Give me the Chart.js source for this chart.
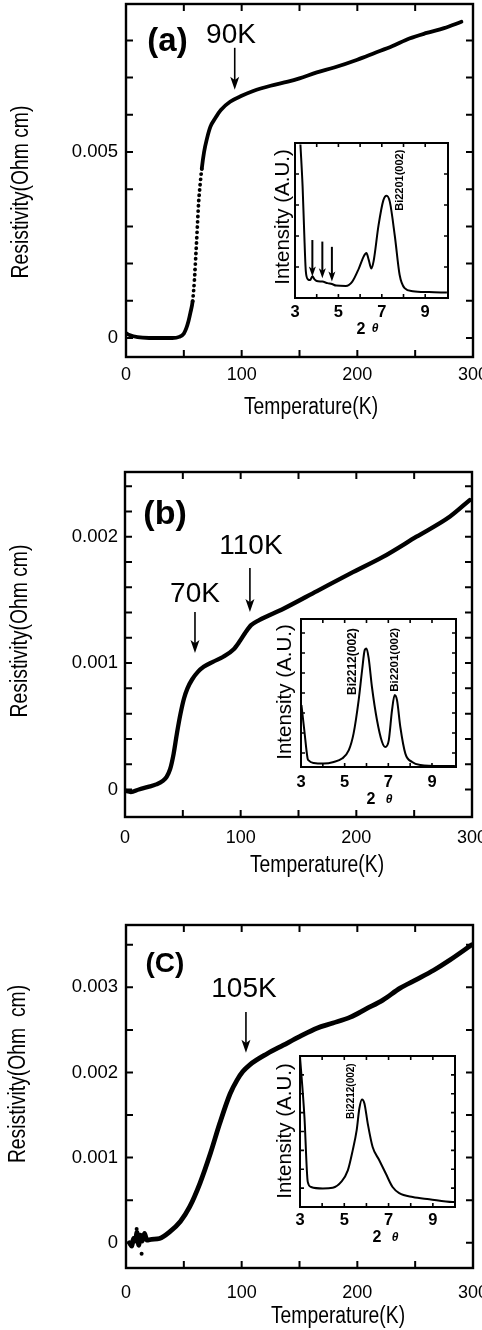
<!DOCTYPE html>
<html><head><meta charset="utf-8">
<script src="https://cdn.jsdelivr.net/npm/chart.js@4.4.1/dist/chart.umd.min.js"></script>
<style>
html,body{margin:0;padding:0;background:#fff;}
#wrap{position:relative;width:482px;height:1330px;overflow:hidden;background:#fff;}
#wrap canvas{position:absolute;left:0;top:0;}
</style></head><body><div id="wrap">
<canvas id="ma" width="482" height="1330"></canvas>
<canvas id="mb" width="482" height="1330"></canvas>
<canvas id="mc" width="482" height="1330"></canvas>
<canvas id="ia" width="482" height="1330"></canvas>
<canvas id="ib" width="482" height="1330"></canvas>
<canvas id="ic" width="482" height="1330"></canvas>
</div>
<script>
// ---------- data ----------
const tempA = [0, 3, 10, 20, 30, 40, 46, 50, 52, 54, 55.7, 57.6, 59.2, 60.5, 61.7, 62.8, 64, 65.5, 67.5, 70, 73, 77, 82, 90, 100, 110, 125, 140, 150, 165, 180, 200, 215, 230, 245, 260, 275, 290];
const rhoA  = [0.00013, 0.00008, 0.00002, 0, 0, 0, 0.00003, 0.00012, 0.00025, 0.00045, 0.00068, 0.00099, 0.00158, 0.0023, 0.0030, 0.00365, 0.0041, 0.00455, 0.0050, 0.00536, 0.00568, 0.0059, 0.00613, 0.00635, 0.00651, 0.00664, 0.00678, 0.00689, 0.00698, 0.00714, 0.00727, 0.00748, 0.00766, 0.00784, 0.00805, 0.0082, 0.00833, 0.0085];

const tempB = [0, 5, 12, 20, 27, 33, 36, 39, 42, 45, 48, 51, 54, 58, 63, 68, 76, 85, 94, 99, 104, 109, 116, 137, 166, 195, 223, 252, 281, 298];
const rhoB  = [-0.00001, -0.00002, 0, 0.00002, 0.00004, 0.00007, 0.0001, 0.00016, 0.00028, 0.00045, 0.0006, 0.00072, 0.0008, 0.00087, 0.00093, 0.00097, 0.00101, 0.00105, 0.00111, 0.00117, 0.00124, 0.0013, 0.00134, 0.00143, 0.00157, 0.00171, 0.00184, 0.002, 0.00216, 0.00229];

const tempC = [3, 5, 6.5, 8, 9.5, 11, 12.5, 14, 16, 18, 22, 29, 38, 47, 55, 64, 73, 81, 90, 96, 101, 107, 122, 136, 150, 165, 179, 194, 208, 222, 237, 251, 266, 280, 299];
const rhoC  = [0, -0.00004, 0.00005, 0.00002, 0.00012, -0.00003, 0.00009, 0.00002, 0.00011, 0.00003, 0.00004, 0.00005, 0.00013, 0.00025, 0.00042, 0.0007, 0.00105, 0.0014, 0.00175, 0.00191, 0.00201, 0.00209, 0.00222, 0.00232, 0.00242, 0.00252, 0.00258, 0.00265, 0.00275, 0.00285, 0.00299, 0.00309, 0.0032, 0.00332, 0.0035];
const noiseTempC = [9.2, 13.5];
const noiseRhoC  = [0.00016, -0.00013];

const thetaA = [3.25, 3.35, 3.42, 3.5, 3.6, 3.7, 3.8, 3.9, 4.0, 4.26, 4.5, 4.7, 4.9, 5.34, 5.64, 5.94, 6.17, 6.29, 6.4, 6.52, 6.62, 6.85, 7.07, 7.22, 7.37, 7.6, 7.82, 8.05, 8.43, 9.18, 10.0];
const intensityA = [4.95, 3.6, 2.2, 0.85, 0.6, 0.58, 0.7, 0.6, 0.55, 0.53, 0.48, 0.45, 0.4, 0.39, 0.53, 0.95, 1.35, 1.45, 1.22, 0.95, 1.18, 2.35, 3.15, 3.3, 3.1, 2.0, 0.75, 0.32, 0.22, 0.19, 0.175];

const thetaB = [3.02, 3.15, 3.3, 3.35, 3.58, 4.04, 4.5, 4.88, 5.19, 5.41, 5.64, 5.8, 5.92, 6.0, 6.1, 6.25, 6.48, 6.71, 6.86, 7.02, 7.17, 7.29, 7.4, 7.55, 7.78, 8.09, 8.47, 9.39, 10.05];
const intensityB = [3.1, 1.85, 0.44, 0.33, 0.2, 0.17, 0.25, 0.42, 0.84, 1.68, 3.33, 4.85, 5.85, 5.92, 5.44, 4.0, 2.35, 1.26, 1.0, 1.33, 2.85, 3.6, 3.33, 2.0, 0.67, 0.25, 0.1, 0.05, 0.05];

const thetaC = [3.0, 3.2, 3.35, 3.5, 4.03, 4.48, 4.86, 5.16, 5.38, 5.56, 5.68, 5.8, 5.91, 6.06, 6.28, 6.58, 6.88, 7.18, 7.48, 8.09, 8.84, 9.89, 10.0];
const intensityC = [7.96, 4.78, 1.33, 1.06, 0.98, 1.02, 1.33, 1.94, 3.0, 4.07, 5.22, 5.7, 5.49, 4.42, 3.18, 2.48, 1.76, 1.06, 0.74, 0.53, 0.41, 0.26, 0.26];

// tick values / labels
const mainXTickValues = [0, 100, 200, 300];
const mainXTickLabels = ['0', '100', '200', '300'];
const mainXTickMarks = [50, 100, 150, 200, 250];
const yTickValuesA = [0, 0.005];            const yTickLabelsA = ['0', '0.005'];
const yTickValuesB = [0, 0.001, 0.002];     const yTickLabelsB = ['0', '0.001', '0.002'];
const yTickValuesC = [0, 0.001, 0.002, 0.003]; const yTickLabelsC = ['0', '0.001', '0.002', '0.003'];
const yTickMarksA = [0, 0.001, 0.002, 0.003, 0.004, 0.005, 0.006, 0.007, 0.008];
const yTickMarksB = [0, 0.0002, 0.0004, 0.0006, 0.0008, 0.001, 0.0012, 0.0014, 0.0016, 0.0018, 0.002, 0.0022, 0.0024];
const yTickMarksC = [0, 0.0005, 0.001, 0.0015, 0.002, 0.0025, 0.003, 0.0035];
const insetXTickValues = [3, 5, 7, 9];
const insetXTickLabels = ['3', '5', '7', '9'];
const insetXTickMarks = [4, 5, 6, 7, 8, 9];

// transition markers (temperature of arrows, text)
const markTempA = [94];        const markTextA = ['90K'];
const markTempB = [60.5, 108]; const markTextB = ['70K', '110K'];
const markTempC = [103.7];     const markTextC = ['105K'];
const peakArrowThetaA = [3.8, 4.26, 4.7];

// ---------- styling ----------
const SANS = '"Liberation Sans",Arial,Helvetica,sans-serif';
const W = 482, H = 1330;

const deco = {
  id: 'deco',
  afterDraw(chart, args, o) {
    const {ctx, chartArea: a} = chart;
    const sx = chart.scales.x, sy = chart.scales.y;
    ctx.save();
    ctx.strokeStyle = '#000'; ctx.fillStyle = '#000';
    ctx.lineWidth = o.frameW;
    ctx.strokeRect(a.left, a.top, a.right - a.left, a.bottom - a.top);
    ctx.lineWidth = o.tickW;
    ctx.beginPath();
    (o.xTicks || []).forEach(v => { const p = sx.getPixelForValue(v);
      ctx.moveTo(p, a.bottom); ctx.lineTo(p, a.bottom - o.tickLen);
      ctx.moveTo(p, a.top); ctx.lineTo(p, a.top + o.tickLen); });
    (o.yTicks || []).forEach(v => { const p = sy.getPixelForValue(v);
      ctx.moveTo(a.left, p); ctx.lineTo(a.left + o.tickLen, p);
      ctx.moveTo(a.right, p); ctx.lineTo(a.right - o.tickLen, p); });
    ctx.stroke();
    (o.arrows || []).forEach(ar => {
      const x = sx.getPixelForValue(ar.x), y0 = sy.getPixelForValue(ar.from), y1 = sy.getPixelForValue(ar.to);
      ctx.lineWidth = ar.w;
      ctx.beginPath(); ctx.moveTo(x, y0); ctx.lineTo(x, y1 - ar.head * 0.6); ctx.stroke();
      ctx.beginPath(); ctx.moveTo(x - ar.hw / 2, y1 - ar.head); ctx.lineTo(x, y1 - ar.head * 0.75);
      ctx.lineTo(x + ar.hw / 2, y1 - ar.head); ctx.lineTo(x, y1); ctx.closePath(); ctx.fill();
    });
    (o.texts || []).forEach(t => {
      const x = t.data ? sx.getPixelForValue(t.x) : t.x;
      const y = t.data ? sy.getPixelForValue(t.y) : t.y;
      ctx.save(); ctx.translate(x, y); if (t.rot) ctx.rotate(t.rot * Math.PI / 180);
      if (t.sx) ctx.scale(t.sx, 1);
      ctx.font = t.font; ctx.textAlign = 'center'; ctx.textBaseline = 'middle';
      ctx.fillText(t.text, 0, 0); ctx.restore();
    });
    ctx.restore();
  }
};

function pts(xs, ys) { return xs.map((x, i) => ({x, y: ys[i]})); }
function lbl(vals, labels) { return v => { const i = vals.findIndex(u => Math.abs(u - v) < 1e-9); return i >= 0 ? labels[i] : ''; }; }

function mainChart(id, c) {
  const XH = 40;
  const ds = [{
    data: pts(c.T, c.R), borderColor: '#000', borderWidth: c.lineW, pointRadius: 0,
    fill: false, cubicInterpolationMode: 'monotone', borderCapStyle: 'round', borderJoinStyle: 'round',
    segment: c.dots ? { borderDash: ctx => (ctx.p0.parsed.x >= c.dots[0] && ctx.p1.parsed.x <= c.dots[1]) ? [0.1, 5.2] : undefined } : undefined
  }];
  if (c.extra) ds.push(c.extra);
  new Chart(document.getElementById(id), {
    type: 'line',
    data: {datasets: ds},
    options: {
      responsive: false, animation: false, events: [],
      layout: {autoPadding: false, padding: {left: 0, top: c.f.t, right: W - c.f.r, bottom: H - c.f.b - XH}},
      plugins: {legend: {display: false}, tooltip: {enabled: false},
        deco: {frameW: 2.4, tickW: 2, tickLen: 7, xTicks: mainXTickMarks, yTicks: c.yMarks, arrows: c.arrows, texts: c.texts}},
      scales: {
        x: {type: 'linear', min: 0, max: 300, grid: {display: false, drawTicks: false}, border: {display: false},
          afterFit(s) { s.height = XH; s.paddingLeft = 0; s.paddingRight = 0; },
          afterBuildTicks(s) { s.ticks = mainXTickValues.map(v => ({value: v})); },
          ticks: {autoSkip: false, maxRotation: 0, padding: c.xPad, color: '#000',
            font: {family: SANS, size: 18, lineHeight: 1}, callback: lbl(mainXTickValues, mainXTickLabels)}},
        y: {type: 'linear', min: c.yMin, max: c.yMax, grid: {display: false, drawTicks: false}, border: {display: false},
          afterFit(s) { s.width = c.f.l; s.paddingTop = 0; s.paddingBottom = 0; },
          afterBuildTicks(s) { s.ticks = c.yVals.map(v => ({value: v})); },
          ticks: {autoSkip: false, padding: c.yPad, color: '#000',
            font: {family: SANS, size: 18.5, lineHeight: 1}, callback: lbl(c.yVals, c.yLabels)}}
      }
    },
    plugins: [deco]
  });
}

function insetChart(id, c) {
  const XH = 25;
  new Chart(document.getElementById(id), {
    type: 'line',
    data: {datasets: [{data: pts(c.X, c.Y), borderColor: '#000', borderWidth: 2, pointRadius: 0, fill: false,
      cubicInterpolationMode: 'monotone', borderJoinStyle: 'round'}]},
    options: {
      responsive: false, animation: false, events: [],
      layout: {autoPadding: false, padding: {left: c.f.l, top: c.f.t, right: W - c.f.r, bottom: H - c.f.b - XH}},
      plugins: {legend: {display: false}, tooltip: {enabled: false},
        deco: {frameW: 2, tickW: 1.6, tickLen: 4, xTicks: insetXTickMarks, yTicks: c.yMarks, arrows: c.arrows, texts: c.texts}},
      scales: {
        x: {type: 'linear', min: 3, max: c.xMax, grid: {display: false, drawTicks: false}, border: {display: false},
          afterFit(s) { s.height = XH; s.paddingLeft = 0; s.paddingRight = 0; },
          afterBuildTicks(s) { s.ticks = insetXTickValues.map(v => ({value: v})); },
          ticks: {autoSkip: false, maxRotation: 0, padding: c.xPad, color: '#000',
            font: {family: SANS, size: 16.5, weight: 'bold', lineHeight: 1}, callback: lbl(insetXTickValues, insetXTickLabels)}},
        y: {type: 'linear', display: false, min: 0, max: c.yMax}
      }
    },
    plugins: [deco]
  });
}

const fYT = '23px ' + SANS;
const NX = 0.84;
const fBig = '28px ' + SANS;
const fInt = '20.5px ' + SANS;
const f2 = 'bold 16px ' + SANS;
const fTh = 'italic bold 12px ' + SANS;

mainChart('ma', {
  T: tempA, R: rhoA, f: {l: 126, t: 4, r: 473, b: 357}, yMin: -0.000511, yMax: 0.008978,
  yVals: yTickValuesA, yLabels: yTickLabelsA, yMarks: yTickMarksA, lineW: 3.8, xPad: 9, yPad: 8, dots: [57.5, 65.6],
  arrows: [{x: markTempA[0], from: 0.0078, to: 0.00667, w: 1.6, head: 13, hw: 9}],
  texts: [
    {text: '(a)', data: true, x: 35.9, y: 0.00797, font: 'bold 33px ' + SANS},
    {text: markTextA[0], data: true, x: 90.8, y: 0.008145, font: fBig},
    {text: 'Resistivity(Ohm cm)', x: 22, y: 192, rot: -90, sx: NX, font: fYT},
    {text: 'Temperature(K)', x: 311, y: 408, sx: NX, font: fYT}
  ]
});
mainChart('mb', {
  T: tempB, R: rhoB, f: {l: 125, t: 472, r: 472, b: 817}, yMin: -0.000218, yMax: 0.002512,
  yVals: yTickValuesB, yLabels: yTickLabelsB, yMarks: yTickMarksB, lineW: 4.3, xPad: 12, yPad: 7,
  arrows: [{x: markTempB[0], from: 0.001404, to: 0.00108, w: 1.6, head: 13, hw: 9},
           {x: markTempB[1], from: 0.001752, to: 0.001404, w: 1.6, head: 13, hw: 9}],
  texts: [
    {text: '(b)', data: true, x: 34.6, y: 0.002172, font: 'bold 34px ' + SANS},
    {text: markTextB[0], data: true, x: 60.5, y: 0.001547, font: fBig},
    {text: markTextB[1], data: true, x: 108.9, y: 0.001926, font: fBig},
    {text: 'Resistivity(Ohm cm)', x: 21, y: 631, rot: -90, sx: NX, font: fYT},
    {text: 'Temperature(K)', x: 317, y: 866, sx: NX, font: fYT}
  ]
});
mainChart('mc', {
  T: tempC, R: rhoC, f: {l: 126, t: 925, r: 473, b: 1268}, yMin: -0.000297, yMax: 0.003732,
  yVals: yTickValuesC, yLabels: yTickLabelsC, yMarks: yTickMarksC, lineW: 4.8, xPad: 16, yPad: 8,
  extra: {data: pts(noiseTempC, noiseRhoC), showLine: false, pointRadius: 2, pointBackgroundColor: '#000', borderColor: '#000', borderWidth: 0},
  arrows: [{x: markTempC[0], from: 0.00271, to: 0.00223, w: 1.6, head: 13, hw: 9}],
  texts: [
    {text: '(C)', data: true, x: 33.7, y: 0.003274, font: 'bold 28px ' + SANS},
    {text: markTextC[0], data: true, x: 102, y: 0.00298, font: fBig},
    {text: 'Resistivity(Ohm  cm)', x: 19, y: 1074, rot: -90, sx: NX, font: fYT},
    {text: 'Temperature(K)', x: 338, y: 1317, sx: NX, font: fYT}
  ]
});

insetChart('ia', {
  X: thetaA, Y: intensityA, f: {l: 295, t: 143, r: 448, b: 298}, xMax: 10.05, yMax: 5, yMarks: [1, 2, 3, 4], xPad: 6,
  arrows: [{x: peakArrowThetaA[0], from: 1.87, to: 0.69, w: 2, head: 10, hw: 7},
           {x: peakArrowThetaA[1], from: 1.82, to: 0.64, w: 2, head: 10, hw: 7},
           {x: peakArrowThetaA[2], from: 1.65, to: 0.53, w: 2, head: 10, hw: 7}],
  texts: [
    {text: 'Bi2201(002)', data: true, x: 7.84, y: 3.8, rot: -90, font: 'bold 11px ' + SANS},
    {text: 'Intensity (A.U.)', x: 283, y: 217, rot: -90, font: fInt},
    {text: '2', x: 361, y: 330, font: f2}, {text: 'θ', x: 375, y: 329, font: fTh}
  ]
});
insetChart('ib', {
  X: thetaB, Y: intensityB, f: {l: 301, t: 619, r: 456, b: 767}, xMax: 10.1, yMax: 7.4, yMarks: [0.7, 1.7, 2.7, 3.7, 4.7, 5.7, 6.7], xPad: 7,
  texts: [
    {text: 'Bi2212(002)', data: true, x: 5.35, y: 5.27, rot: -90, font: 'bold 12px ' + SANS},
    {text: 'Bi2201(002)', data: true, x: 7.28, y: 5.36, rot: -90, font: 'bold 11.5px ' + SANS},
    {text: 'Intensity (A.U.)', x: 285, y: 692, rot: -90, font: fInt},
    {text: '2', x: 371, y: 800, font: f2}, {text: 'θ', x: 389, y: 800, font: fTh}
  ]
});
insetChart('ic', {
  X: thetaC, Y: intensityC, f: {l: 300, t: 1056, r: 455, b: 1207}, xMax: 10, yMax: 8, yMarks: [1, 2, 3, 4, 5, 6, 7], xPad: 5,
  texts: [
    {text: 'Bi2212(002)', data: true, x: 5.3, y: 6.14, rot: -90, font: 'bold 10px ' + SANS},
    {text: 'Intensity (A.U.)', x: 285, y: 1131, rot: -90, font: fInt},
    {text: '2', x: 377, y: 1238, font: f2}, {text: 'θ', x: 395, y: 1238, font: fTh}
  ]
});
</script></body></html>
